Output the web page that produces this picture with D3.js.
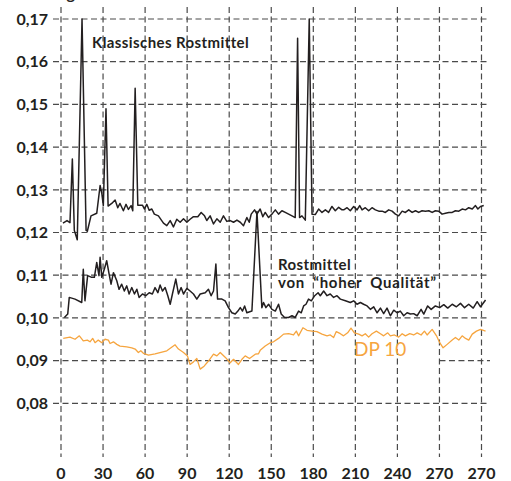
<!DOCTYPE html>
<html><head><meta charset="utf-8">
<script src="https://cdn.jsdelivr.net/npm/d3@7"></script>
<style>
html,body{margin:0;padding:0;background:#fff;}
svg{display:block;}
text{font-family:Lato,"Open Sans",sans-serif;fill:#231f20;}
</style></head><body>
<svg id="c" width="511" height="481"></svg>
<script>
const xTicks = [0,30,60,90,120,150,180,210,240,270,300];
const xTickLabels = ["0","30","60","90","120","150","180","210","240","270","270"];
const yTicks = [0.08,0.09,0.10,0.11,0.12,0.13,0.14,0.15,0.16,0.17];
const yTickLabels = ["0,08","0,09","0,10","0,11","0,12","0,13","0,14","0,15","0,16","0,17"];

const klassisch = [[1.4,0.1222],[4.3,0.1228],[6.4,0.1223],[8.1,0.1372],[9.5,0.1205],[11.6,0.1183],[15,0.170],[17.9,0.1205],[18.8,0.1203],[21.4,0.1239],[25.5,0.1245],[27.9,0.131],[29.1,0.1292],[30.2,0.1263],[32.1,0.149],[33.6,0.1262],[36.2,0.1268],[38.6,0.1276],[40.5,0.1258],[42.1,0.1268],[44.5,0.1251],[46.4,0.1266],[48.1,0.1254],[50,0.1263],[51.2,0.1251],[52.9,0.1538],[54.8,0.1264],[58.1,0.1264],[59.5,0.1255],[61.2,0.1266],[62.9,0.1252],[64.8,0.1255],[66.6,0.1243],[69.5,0.1239],[73.1,0.1222],[75.5,0.1216],[77.9,0.1228],[80.2,0.1213],[82.6,0.1231],[85,0.1224],[87.4,0.1232],[89.8,0.1224],[92.1,0.1231],[94.5,0.1237],[97.6,0.1237],[100,0.1247],[102.4,0.1239],[104,0.1228],[106.4,0.1239],[108.8,0.1220],[111.2,0.1232],[113.6,0.1224],[115.9,0.1239],[118.3,0.1226],[120.7,0.1228],[123.1,0.1224],[125.5,0.1229],[127.9,0.1224],[130.2,0.1216],[132.6,0.1235],[134.3,0.1224],[135.7,0.1243],[138.1,0.1253],[139.8,0.1243],[142.1,0.1255],[144,0.1237],[145.7,0.1247],[148.1,0.1235],[150.5,0.1243],[152.9,0.1253],[155.2,0.1243],[157.6,0.1251],[160,0.1247],[162.4,0.1243],[164.8,0.1239],[167.1,0.1235],[168.8,0.1655],[170.2,0.1235],[171.9,0.1239],[174.3,0.1229],[177.1,0.170],[179.1,0.1243],[181.4,0.1242],[183.8,0.1255],[186.2,0.1247],[188.6,0.1253],[190.9,0.1247],[193.3,0.1261],[195.7,0.1251],[198.1,0.1259],[200.5,0.1253],[201.7,0.1253],[204.1,0.1258],[206.4,0.1251],[208.8,0.1261],[211.2,0.1253],[213.1,0.1263],[214.8,0.1253],[217.1,0.1258],[219.5,0.1251],[221.9,0.1258],[224.3,0.1253],[226.7,0.1250],[229.1,0.1250],[231.4,0.1247],[233.8,0.1253],[236.2,0.1250],[238.6,0.1243],[240.9,0.1239],[243.4,0.1250],[245.7,0.1247],[248.1,0.1253],[250.5,0.1247],[252.9,0.1251],[255.2,0.1247],[257.6,0.1251],[260,0.1250],[262.4,0.1251],[264.8,0.1247],[267.1,0.1251],[269.5,0.1250],[271.9,0.1243],[274.3,0.1245],[276.7,0.1247],[279.1,0.1247],[281.4,0.1251],[283.8,0.1250],[286.2,0.1255],[288.6,0.1253],[290.9,0.1258],[293.4,0.1255],[295.7,0.1263],[297.4,0.1255],[299.3,0.1261],[301.6,0.1263]];

const hoheQualitaet = [[2.4,0.1001],[4.8,0.1009],[5.9,0.1048],[10,0.1044],[14.8,0.1036],[15.9,0.1114],[17.1,0.1040],[19,0.1099],[21.9,0.1095],[23.8,0.1095],[25.5,0.1130],[27.1,0.1099],[27.9,0.1142],[29.1,0.1095],[30.9,0.1114],[32.6,0.1134],[34.3,0.1103],[35.7,0.1079],[37.4,0.1106],[39.8,0.1087],[41.4,0.1067],[43.3,0.1079],[45.2,0.1063],[46.9,0.1075],[48.6,0.1056],[50.5,0.1071],[52.4,0.1056],[54.1,0.1067],[55.7,0.1048],[58.1,0.1056],[60.5,0.1052],[62.9,0.1059],[65.2,0.1056],[67.1,0.1071],[69.1,0.1059],[70.7,0.1077],[72.4,0.1063],[74.3,0.1071],[76.2,0.1052],[77.9,0.1032],[79.5,0.1056],[81.9,0.1091],[83.8,0.1056],[85.7,0.1071],[87.4,0.1056],[89.8,0.1069],[92.1,0.1063],[94.5,0.1056],[96.9,0.1044],[99.3,0.1056],[102.9,0.1059],[105.2,0.1067],[107.1,0.1052],[108.8,0.1063],[110.5,0.1126],[111.7,0.1044],[114.8,0.1044],[117.1,0.1040],[119.5,0.1024],[121.9,0.1012],[124.3,0.1009],[126.2,0.1016],[127.9,0.1024],[129.5,0.1016],[131,0.1028],[132.6,0.1012],[136.2,0.1016],[139.8,0.1249],[143.3,0.1024],[144.5,0.1036],[146.2,0.1024],[148.1,0.1032],[150.5,0.1020],[152.9,0.1016],[155.2,0.1032],[157.1,0.1009],[159.5,0.1001],[162.4,0.1001],[164.8,0.1005],[167.1,0.1001],[169.5,0.1016],[171.4,0.1012],[173.1,0.1028],[174.8,0.1032],[176.6,0.1044],[178.6,0.1040],[181,0.1052],[183.4,0.1059],[185,0.1052],[187.4,0.1063],[189.8,0.1052],[192.1,0.1056],[194.5,0.1048],[196.9,0.1052],[199.3,0.1044],[202.9,0.1040],[206.4,0.1036],[208.8,0.1040],[211.2,0.1032],[213.6,0.1036],[215.9,0.1032],[218.4,0.1028],[220.7,0.1020],[223.1,0.1026],[225.5,0.1012],[227.9,0.1023],[230.2,0.1010],[232.6,0.1023],[235,0.1005],[237.4,0.1018],[239.8,0.1012],[242.1,0.1016],[244.5,0.1005],[246.9,0.1012],[249.3,0.1009],[251.6,0.1010],[254.1,0.1005],[256.9,0.1020],[258.8,0.1009],[261.6,0.1028],[264.1,0.1020],[267.1,0.1028],[270.2,0.1024],[273.1,0.1031],[275.9,0.1023],[279.1,0.1032],[282.1,0.1026],[285,0.1034],[287.9,0.1024],[290.9,0.1032],[294.1,0.1023],[296.9,0.1038],[299.3,0.1026],[302.9,0.1042]];

const dp10 = [[1.6,0.0952],[6.4,0.0955],[10,0.0950],[13.1,0.0958],[15.9,0.0946],[18.8,0.0948],[20.7,0.0944],[22.6,0.0952],[24.3,0.0942],[26.6,0.0948],[29.1,0.0942],[31.4,0.0950],[33.8,0.0948],[35,0.0940],[37.4,0.0944],[39.8,0.0938],[42.1,0.0934],[46.9,0.0932],[50.5,0.0930],[52.9,0.0927],[55.2,0.0919],[56.9,0.0923],[58.8,0.0917],[62.4,0.0913],[67.1,0.0916],[75.5,0.0923],[81.4,0.0937],[83.8,0.0927],[87.4,0.0919],[90.2,0.0911],[92.1,0.0891],[94.5,0.0897],[96.9,0.0905],[99.3,0.0880],[102.1,0.0887],[105.2,0.0899],[108.8,0.0915],[111.2,0.0911],[113.6,0.0919],[117.1,0.0908],[120.7,0.0895],[123.1,0.0903],[126.6,0.0891],[129.1,0.0903],[131.4,0.0911],[134.5,0.0905],[138.6,0.0915],[140.9,0.0916],[142.1,0.0924],[145.7,0.0934],[149.3,0.0942],[151.6,0.0944],[155.2,0.0952],[158.8,0.0962],[162.4,0.0963],[165.9,0.0960],[167.9,0.0969],[169.5,0.0958],[172.6,0.0977],[175.5,0.0971],[179.1,0.0969],[182.6,0.0968],[186.2,0.0962],[189.8,0.0958],[192.1,0.0960],[194.5,0.0954],[196.4,0.0968],[199.3,0.0963],[201.6,0.0958],[204.5,0.0965],[206.9,0.0976],[209.3,0.0965],[212.4,0.0962],[214.8,0.0958],[217.1,0.0963],[219.5,0.0955],[221.9,0.0963],[225,0.0969],[227.9,0.0963],[230.2,0.0958],[233.1,0.0965],[235,0.0958],[237.9,0.0960],[240.9,0.0955],[243.4,0.0963],[245.7,0.0958],[248.8,0.0963],[251.6,0.0960],[254.1,0.0965],[256.9,0.0960],[259.3,0.0969],[261.2,0.0960],[264.8,0.0973],[267.9,0.0958],[270.2,0.0942],[272.6,0.0930],[275.5,0.0938],[279.1,0.0948],[281.4,0.0954],[283.8,0.0948],[286.2,0.0958],[288.6,0.0952],[290.9,0.0948],[293.4,0.0962],[296.4,0.0969],[299.3,0.0973],[302.9,0.0969]];

const labels = {
  klassisch: ["Klassisches Rostmittel"],
  hoheQualitaet: ["Rostmittel", "von \u201Choher Qualit\u00E4t\u201D"],
  dp10: ["DP 10"]
};

const svg = d3.select("#c");
const x = d3.scaleLinear().domain([0,300]).range([61,481.5]);
const y = d3.scaleLinear().domain([0.08,0.17]).range([403.3,19]);
const gridColor = "#4a4a4a";
const dash = "6,3.5";

// partial top label (cut off at the top edge, as in the reference)
svg.append("text").attr("x",58).attr("y",-1).attr("font-size",16).attr("font-weight",700).text("kg");

// vertical grid
const gx = svg.append("g");
gx.selectAll("line").data(xTicks).join("line")
  .attr("x1",d=>x(d)).attr("x2",d=>x(d)).attr("y1",7).attr("y2",457)
  .attr("stroke",gridColor).attr("stroke-width",1.2).attr("stroke-dasharray",dash);

// horizontal grid (0,09 line interrupted between 180 and 270)
const gy = svg.append("g");
yTicks.forEach(t=>{
  const segs = Math.abs(t-0.09)<1e-9 ? [[53,x(180)],[x(270),490]] : [[53,490]];
  segs.forEach(s=>{
    gy.append("line").attr("x1",s[0]).attr("x2",s[1]).attr("y1",y(t)).attr("y2",y(t))
      .attr("stroke",gridColor).attr("stroke-width",1.2).attr("stroke-dasharray",dash);
  });
});

// y tick labels
svg.append("g").selectAll("text").data(yTicks).join("text")
  .attr("x",48).attr("y",d=>y(d)).attr("dy","0.36em").attr("text-anchor","end")
  .attr("font-size",16).attr("font-weight",700)
  .text((d,i)=>yTickLabels[i]);

// x tick labels
svg.append("g").selectAll("text").data(xTicks).join("text")
  .attr("x",d=>x(d)).attr("y",479).attr("text-anchor","middle")
  .attr("font-size",16).attr("font-weight",700)
  .text((d,i)=>xTickLabels[i]);

const line = d3.line().x(d=>x(d[0])).y(d=>y(d[1]));
svg.append("path").datum(dp10).attr("d",line).attr("fill","none")
  .attr("stroke","#f6a53f").attr("stroke-width",1.3).attr("stroke-linejoin","round");
svg.append("path").datum(hoheQualitaet).attr("d",line).attr("fill","none")
  .attr("stroke","#231f20").attr("stroke-width",1.5).attr("stroke-linejoin","round");
svg.append("path").datum(klassisch).attr("d",line).attr("fill","none")
  .attr("stroke","#231f20").attr("stroke-width",1.5).attr("stroke-linejoin","round");

// series labels
svg.append("text").attr("x",92).attr("y",48).attr("font-size",15).attr("font-weight",700)
  .attr("letter-spacing",0.4).text(labels.klassisch[0]);
const t2 = svg.append("text").attr("font-size",15).attr("font-weight",700).attr("letter-spacing",0.4);
t2.append("tspan").attr("x",278).attr("y",270).text(labels.hoheQualitaet[0]);
t2.append("tspan").attr("x",278).attr("y",288).attr("word-spacing",4).attr("letter-spacing",0.7).text(labels.hoheQualitaet[1]);
svg.append("text").attr("x",354).attr("y",356).attr("font-size",19)
  .style("fill","#f6a53f").text(labels.dp10[0]);
</script>
</body></html>
